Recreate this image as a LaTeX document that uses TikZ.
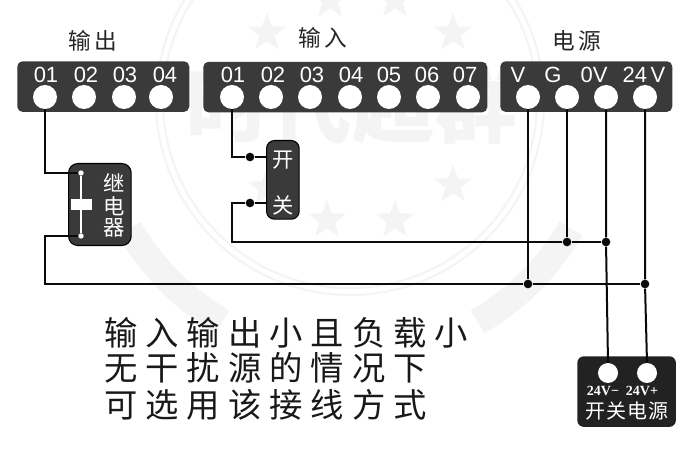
\documentclass[tikz,border=0pt]{standalone}
\usepackage{fontspec}
\setmainfont{Liberation Sans}
\newfontfamily\cjk{Noto Sans CJK SC}
\newfontfamily\cjkwide[LetterSpace=24]{Noto Sans CJK SC}
\newfontfamily\cjkmark[LetterSpace=6]{Noto Sans CJK SC}
\newfontfamily\serifnum{Liberation Serif}
\usetikzlibrary{shapes.geometric}
\definecolor{panel1}{RGB}{58,58,58}
\definecolor{panel2}{RGB}{34,34,34}
\definecolor{wire1}{RGB}{10,10,10}
\definecolor{mark1}{RGB}{244,244,244}
\tikzset{
	panelbox/.style={draw=none,fill=panel1,rounded corners=4pt,inner sep=0pt,anchor=north west},
	pin/.style={circle,fill=white,draw=none,minimum size=18pt,inner sep=0pt},
	pinlabel/.style={text=white,inner sep=0pt,font=\fontsize{16.5}{17}\selectfont},
	wire/.style={draw=wire1,line width=1.5pt},
	junction/.style={circle,fill=wire1,minimum size=6.5pt,inner sep=0pt},
	headlabel/.style={text=black!85,inner sep=0pt,font=\cjk\fontsize{17}{18}\selectfont},
	sidelabel/.style={text=white,inner sep=0pt,font=\cjk\fontsize{16}{17}\selectfont},
	supplylabel/.style={text=white,inner sep=0pt,font=\serifnum\bfseries\fontsize{10.5}{11}\selectfont},
	notelabel/.style={text=black!90,inner sep=0pt,anchor=west,font=\cjkwide\fontsize{25}{26}\selectfont},
	starmark/.style={star,star points=5,star point ratio=2.4,fill=mark1,draw=none,minimum size=30pt,inner sep=0pt},
}
\begin{document}
\begin{tikzpicture}[x=0.75pt,y=-0.75pt]

	%%% Page
	\useasboundingbox (0,0) rectangle (700,452);
	\fill[white] (0,0) rectangle (700,452);

	%%% Watermark
	\draw[mark1,line width=1.5pt] (350,101) circle (187);
	\draw[mark1,line width=1.5pt] (350,101) circle (194);
	\draw[mark1,line width=20pt] (350,101) ++(120:255) arc[start angle=120,end angle=150,radius=255];
	\draw[mark1,line width=20pt] (350,101) ++(30:255) arc[start angle=30,end angle=60,radius=255];
	\node[starmark] (star1) at (267,33) {};
	\node[starmark] (star2) at (453,33) {};
	\node[starmark] (star3) at (267,188) {};
	\node[starmark] (star4) at (327,220) {};
	\node[starmark] (star5) at (395,220) {};
	\node[starmark] (star6) at (453,185) {};
	\node[starmark] (star7) at (330,0) {};
	\node[starmark] (star8) at (395,0) {};
	\node[text=mark1,inner sep=0pt,font=\cjk\bfseries\fontsize{62}{64}\selectfont] (markname) at (352,105) {时代超群};

	%%% Headings
	\node[headlabel] (headout) at (93,41) {输\,出};
	\node[headlabel] (headin) at (323,38) {输\,入};
	\node[headlabel] (headpower) at (577,41) {电\,源};

	%%% Terminal panels
	\node[panelbox,minimum width=129pt,minimum height=38pt] (outpanel) at (17,61) {};
	\node[panelbox,minimum width=213pt,minimum height=38pt] (inpanel) at (203,61.5) {};
	\node[panelbox,minimum width=129pt,minimum height=38pt] (powerpanel) at (500,61) {};

	%%% Output terminals
	\node[pin] (out1) at (45,97) {};
	\node[pin] (out2) at (84,97) {};
	\node[pin] (out3) at (124,97) {};
	\node[pin] (out4) at (161,97) {};
	\node[pinlabel] (outtext1) at (46,75) {01};
	\node[pinlabel] (outtext2) at (86,75) {02};
	\node[pinlabel] (outtext3) at (125,75) {03};
	\node[pinlabel] (outtext4) at (165,75) {04};

	%%% Input terminals
	\node[pin] (in1) at (232,97) {};
	\node[pin] (in2) at (271,97) {};
	\node[pin] (in3) at (310,97) {};
	\node[pin] (in4) at (350,97) {};
	\node[pin] (in5) at (389,97) {};
	\node[pin] (in6) at (428,97) {};
	\node[pin] (in7) at (468,97) {};
	\node[pinlabel] (intext1) at (233,75) {01};
	\node[pinlabel] (intext2) at (273,75) {02};
	\node[pinlabel] (intext3) at (312,75) {03};
	\node[pinlabel] (intext4) at (351,75) {04};
	\node[pinlabel] (intext5) at (389,75) {05};
	\node[pinlabel] (intext6) at (427,75) {06};
	\node[pinlabel] (intext7) at (465,75) {07};

	%%% Power terminals
	\node[pin] (powerv) at (528,97) {};
	\node[pin] (powerg) at (567,97) {};
	\node[pin] (powerzero) at (606,97) {};
	\node[pin] (powerplus) at (645,97) {};
	\node[pinlabel] (powertext1) at (518,75) {V};
	\node[pinlabel] (powertext2) at (553,75) {G};
	\node[pinlabel] (powertext3) at (594,75) {0V};
	\node[pinlabel] (powertext4) at (644,75) {24\,V};

	%%% Relay
	\node[panelbox,draw=black,thick,minimum width=47pt,minimum height=61.5pt,rounded corners=7pt] (relay) at (68,163) {};
	\node[circle,fill=white,minimum size=4pt,inner sep=0pt] (relaytop) at (81,173) {};
	\node[circle,fill=white,minimum size=4pt,inner sep=0pt] (relaybottom) at (81,236) {};
	\draw[white,line width=1.2pt] (relaytop) -- (relaybottom);
	\node[fill=white,minimum width=15.5pt,minimum height=8pt,inner sep=0pt] (relaycoil) at (81.5,204.5) {};
	\node[sidelabel] (relaytext1) at (114,183) {继};
	\node[sidelabel] (relaytext2) at (114,206) {电};
	\node[sidelabel] (relaytext3) at (114,228) {器};

	%%% Switch
	\node[panelbox,draw=black,thick,minimum width=24.5pt,minimum height=59pt,rounded corners=6pt] (switch) at (266,140) {};
	\node[sidelabel] (switchtext1) at (283,160) {开};
	\node[sidelabel] (switchtext2) at (283,205) {关};

	%%% Switching supply
	\node[panelbox,fill=panel2,minimum width=74pt,minimum height=53pt,rounded corners=5pt] (supply) at (577,356) {};
	\node[pin,minimum size=15pt] (supplyminus) at (608,373) {};
	\node[pin,minimum size=15pt] (supplyplus) at (647,373) {};
	\node[supplylabel] (supplytext1) at (603,390.5) {24V−};
	\node[supplylabel] (supplytext2) at (642,390.5) {24V+};
	\node[text=white,inner sep=0pt,font=\cjkmark\fontsize{15}{16}\selectfont] (supplytext3) at (627,411) {开关电源};

	%%% Junctions
	\node[junction] (dotswitch1) at (250,157) {};
	\node[junction] (dotswitch2) at (250,203) {};
	\node[junction] (dotg) at (567,242) {};
	\node[junction] (dotzero) at (606,242) {};
	\node[junction] (dotv) at (528,284) {};
	\node[junction] (dotplus) at (645,284) {};

	%%% Corners and box edges
	\coordinate (switchedge1) at (266,157);
	\coordinate (switchedge2) at (266,203);
	\coordinate (switchcorner) at (232,242);
	\coordinate (relaycorner) at (45,284);

	%%% Wires
	\draw[wire] (out1.south) |- (relaytop);
	\draw[wire] (relaybottom) -| (relaycorner) -- (dotv) -- (dotplus);
	\draw[wire] (in1.south) |- (dotswitch1) -- (switchedge1);
	\draw[wire] (switchedge2) -- (dotswitch2) -| (switchcorner) -- (dotg) -- (dotzero);
	\draw[wire] (powerv.south) -- (dotv);
	\draw[wire] (powerg.south) -- (dotg);
	\draw[wire] (powerzero.south) -- (dotzero) -- (supplyminus.north);
	\draw[wire] (powerplus.south) -- (dotplus) -- (supplyplus.north);

	%%% Note
	\node[notelabel] (note1) at (104,333) {输入输出小且负载小};
	\node[notelabel] (note2) at (104,368) {无干扰源的情况下};
	\node[notelabel] (note3) at (104,405) {可选用该接线方式};

\end{tikzpicture}
\end{document}
